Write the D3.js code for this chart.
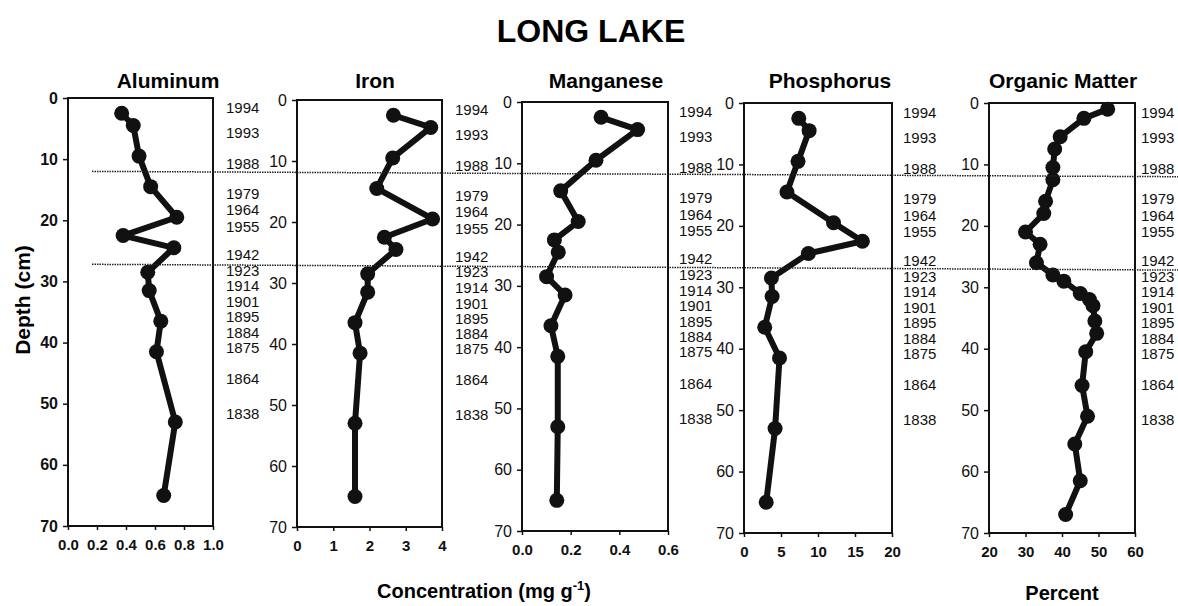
<!DOCTYPE html>
<html>
<head>
<meta charset="utf-8">
<script src="https://cdn.jsdelivr.net/npm/d3@7/dist/d3.min.js"></script>
<style>
  body { margin: 0; background: #fff; }
  svg { font-family: "Liberation Sans", Arial, sans-serif; }
</style>
</head>
<body>
<div class="chart"></div>
<script>
// sample depths (cm) for the metals
var depths = [2.5, 4.5, 9.5, 14.5, 19.5, 22.5, 24.5, 28.5, 31.5, 36.5, 41.5, 53, 65];

var aluminum = [0.37, 0.45, 0.49, 0.57, 0.75, 0.38, 0.73, 0.55, 0.56, 0.64, 0.61, 0.74, 0.66];
var iron = [2.66, 3.69, 2.64, 2.2, 3.74, 2.41, 2.73, 1.95, 1.95, 1.6, 1.74, 1.6, 1.6];
var manganese = [0.325, 0.475, 0.304, 0.159, 0.231, 0.133, 0.149, 0.101, 0.177, 0.119, 0.147, 0.147, 0.143];
var phosphorus = [7.4, 8.8, 7.3, 5.8, 12.1, 16.0, 8.7, 3.7, 3.8, 2.8, 4.8, 4.2, 3.0];

// organic matter has its own, denser sampling
var omDepths = [1, 2.5, 5.5, 7.5, 10.5, 12.5, 16, 18, 21, 23, 26, 28, 29, 31, 32, 33, 35.5, 37.5, 40.5, 46, 51, 55.5, 61.5, 67];
var organicMatter = [52.5, 46, 39.5, 38, 37.5, 37.5, 35.5, 35, 30, 34, 33, 37.5, 40.5, 45, 47.5, 48.5, 49, 49.5, 46.5, 45.5, 47, 43.5, 45, 41];

// 210Pb dates shown to the right of each panel
var dateLabels = ["1994", "1993", "1988", "1979", "1964", "1955", "1942", "1923", "1914", "1901", "1895", "1884", "1875", "1864", "1838"];
var dateDepths = [1.6, 5.7, 10.7, 15.6, 18.3, 21, 25.6, 28.2, 30.7, 33.3, 35.8, 38.3, 40.8, 45.9, 51.6];

// dotted marker lines (cm)
var markerDepths = [12, 27.2];

var depthTicks = [0, 10, 20, 30, 40, 50, 60, 70];

var panels = [
  { name: "Aluminum", ys: depths, xs: aluminum, domain: [0, 1], ticks: [0, 0.2, 0.4, 0.6, 0.8, 1.0], fmt: ".1f" },
  { name: "Iron", ys: depths, xs: iron, domain: [0, 4], ticks: [0, 1, 2, 3, 4], fmt: "d" },
  { name: "Manganese", ys: depths, xs: manganese, domain: [0, 0.6], ticks: [0, 0.2, 0.4, 0.6], fmt: ".1f" },
  { name: "Phosphorus", ys: depths, xs: phosphorus, domain: [0, 20], ticks: [0, 5, 10, 15, 20], fmt: "d" },
  { name: "Organic Matter", ys: omDepths, xs: organicMatter, domain: [20, 60], ticks: [20, 30, 40, 50, 60], fmt: "d" }
];

// layout of each plot box (scan is slightly skewed)
var boxes = [
  { x0: 68, x1: 213, y0: 98, y1: 526, titleX: 168, dateX: 226, boldY: true },
  { x0: 297, x1: 442, y0: 100, y1: 527, titleX: 375, dateX: 455 },
  { x0: 522, x1: 668, y0: 102, y1: 531, titleX: 606, dateX: 679 },
  { x0: 744, x1: 892, y0: 103, y1: 533, titleX: 830, dateX: 903 },
  { x0: 989, x1: 1135, y0: 103, y1: 533, titleX: 1063, dateX: 1141 }
];

var svg = d3.select(".chart").append("svg")
  .attr("width", 1178)
  .attr("height", 606);

svg.append("text")
  .attr("x", 591).attr("y", 42)
  .attr("text-anchor", "middle")
  .attr("font-size", "32px")
  .attr("font-weight", "bold")
  .text("LONG LAKE");

var yScales = [];

panels.forEach(function(p, i) {
  var b = boxes[i];
  var x = d3.scaleLinear().domain(p.domain).range([b.x0, b.x1]);
  var y = d3.scaleLinear().domain([0, 70]).range([b.y0, b.y1]);
  yScales.push(y);

  var g = svg.append("g");

  g.append("text")
    .attr("x", b.titleX).attr("y", 88)
    .attr("text-anchor", "middle")
    .attr("font-size", "21px")
    .attr("font-weight", "bold")
    .text(p.name);

  // frame
  g.append("rect")
    .attr("x", b.x0).attr("y", b.y0)
    .attr("width", b.x1 - b.x0).attr("height", b.y1 - b.y0)
    .attr("fill", "none")
    .attr("stroke", "#111")
    .attr("stroke-width", 2);

  var yAxis = d3.axisLeft(y).tickValues(depthTicks).tickSize(5).tickSizeOuter(0).tickPadding(5);
  var ya = g.append("g")
    .attr("transform", "translate(" + b.x0 + ",0)")
    .call(yAxis);
  ya.select(".domain").remove();
  ya.selectAll("line").attr("stroke", "#111").attr("stroke-width", 1.5);
  ya.selectAll("text")
    .attr("font-size", "16px")
    .attr("font-weight", b.boldY ? "bold" : "normal")
    .attr("fill", "#111")
    .style("font-family", "Liberation Sans, Arial, sans-serif");

  var xAxis = d3.axisBottom(x).tickValues(p.ticks).tickSize(4).tickSizeOuter(0).tickPadding(9).tickFormat(d3.format(p.fmt));
  var xa = g.append("g")
    .attr("transform", "translate(0," + b.y1 + ")")
    .call(xAxis);
  xa.select(".domain").remove();
  xa.selectAll("line").attr("stroke", "#111").attr("stroke-width", 1.5);
  xa.selectAll("text")
    .attr("font-size", "15px")
    .attr("font-weight", "bold")
    .attr("fill", "#111")
    .style("font-family", "Liberation Sans, Arial, sans-serif");

  // dates on the right
  g.selectAll(".date")
    .data(dateLabels)
    .enter()
    .append("text")
    .attr("class", "date")
    .attr("x", b.dateX)
    .attr("y", function(d, j) { return y(dateDepths[j]); })
    .attr("dy", "0.36em")
    .attr("font-size", "15px")
    .attr("fill", "#111")
    .text(function(d) { return d; });

  var pts = p.xs.map(function(v, j) { return { v: v, d: p.ys[j] }; });

  var line = d3.line()
    .x(function(d) { return x(d.v); })
    .y(function(d) { return y(d.d); });

  g.append("path")
    .datum(pts)
    .attr("d", line)
    .attr("fill", "none")
    .attr("stroke", "#111")
    .attr("stroke-width", 6)
    .attr("stroke-linejoin", "round");

  g.selectAll("circle")
    .data(pts)
    .enter()
    .append("circle")
    .attr("cx", function(d) { return x(d.v); })
    .attr("cy", function(d) { return y(d.d); })
    .attr("r", 7.5)
    .attr("fill", "#111");
});

// dotted lines across all panels
markerDepths.forEach(function(md) {
  svg.append("line")
    .attr("x1", 92).attr("x2", 1178)
    .attr("y1", yScales[0](md))
    .attr("y2", yScales[4](md))
    .attr("stroke", "#222")
    .attr("stroke-width", 1.5)
    .attr("stroke-dasharray", "1.5,1");
});

svg.append("text")
  .attr("transform", "translate(30,300) rotate(-90)")
  .attr("text-anchor", "middle")
  .attr("font-size", "21px")
  .attr("font-weight", "bold")
  .text("Depth (cm)");

var conc = svg.append("text")
  .attr("x", 484).attr("y", 598)
  .attr("text-anchor", "middle")
  .attr("font-size", "20px")
  .attr("font-weight", "bold");
conc.append("tspan").text("Concentration (mg g");
conc.append("tspan").attr("dy", -8).attr("font-size", "13px").text("-1");
conc.append("tspan").attr("dy", 8).text(")");

svg.append("text")
  .attr("x", 1062).attr("y", 600)
  .attr("text-anchor", "middle")
  .attr("font-size", "20px")
  .attr("font-weight", "bold")
  .text("Percent");
</script>
</body>
</html>
